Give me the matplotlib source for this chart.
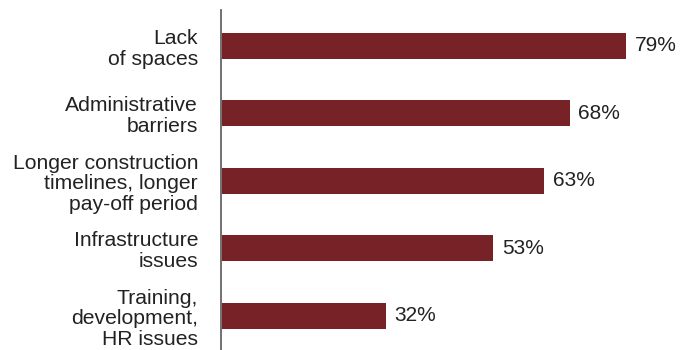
import matplotlib.pyplot as plt

plt.rcParams['font.family'] = ['Liberation Sans', 'DejaVu Sans']

labels = ['Lack\nof spaces',
          'Administrative\nbarriers',
          'Longer construction\ntimelines, longer\npay-off period',
          'Infrastructure\nissues',
          'Training,\ndevelopment,\nHR issues']
shares = [79, 68, 63, 53, 32]

bar_color = '#772226'
text_color = '#222222'

fig = plt.figure(figsize=(6.91, 3.5), dpi=100)
ax = fig.add_axes([221 / 691, 0, 1 - 221 / 691, 1 - 10 / 350])

pos = list(range(len(shares)))
ax.barh(pos, shares, height=0.385, color=bar_color, left=0.2)
for p, v in zip(pos, shares):
    ax.text(v + 0.2 + 1.7, p, f'{v}%', va='center', ha='left',
            fontsize=15, color=text_color)

ax.set_ylim(4.504, -0.533)
ax.set_xlim(0, 470 / (404 / 79))
ax.set_yticks(pos)
ax.set_yticklabels(labels, fontsize=15.2, color=text_color, linespacing=1.12)
ax.tick_params(axis='y', length=0, pad=16.5)
ax.set_xticks([])

for s in ['top', 'right', 'bottom']:
    ax.spines[s].set_visible(False)
ax.spines['left'].set_color('#666666')
ax.spines['left'].set_linewidth(1.3)

fig.savefig('out.png', dpi=100)
